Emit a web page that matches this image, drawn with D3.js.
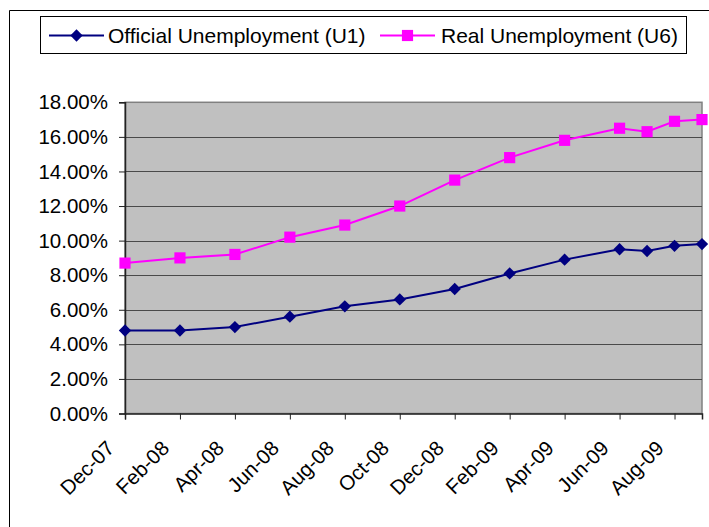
<!DOCTYPE html>
<html>
<head>
<meta charset="utf-8">
<script src="https://cdn.jsdelivr.net/npm/d3@7"></script>
<style>
html,body{margin:0;padding:0;background:#fff;}
svg{display:block;}
text{font-family:"Liberation Sans",Arial,sans-serif;fill:#000;}
</style>
</head>
<body>
<svg id="chart" width="709" height="527"></svg>
<script>
// month index from Dec-07 (0) to Sep-09 (21)
const monthIdx = [0, 2, 4, 6, 8, 10, 12, 14, 16, 18, 19, 20, 21];
const u1 = [4.8, 4.8, 5.0, 5.6, 6.2, 6.6, 7.2, 8.1, 8.9, 9.5, 9.4, 9.7, 9.8];
const u6 = [8.7, 9.0, 9.2, 10.2, 10.9, 12.0, 13.5, 14.8, 15.8, 16.5, 16.3, 16.9, 17.0];
const xTickIdx = [0, 2, 4, 6, 8, 10, 12, 14, 16, 18, 20];
const xTickLabels = ["Dec-07","Feb-08","Apr-08","Jun-08","Aug-08","Oct-08","Dec-08","Feb-09","Apr-09","Jun-09","Aug-09"];
const yTicks = [0, 2, 4, 6, 8, 10, 12, 14, 16, 18];
const seriesNames = ["Official Unemployment (U1)", "Real Unemployment (U6)"];
const seriesColors = ["#000080", "#FF00FF"];

(function () {
const svg = d3.select("#chart");
const pLeft = 125, pRight = 702, pTop = 102.3, pBottom = 413.5;
const x = d3.scaleLinear().domain([0, 21]).range([pLeft, pRight]);
const y = d3.scaleLinear().domain([0, 18]).range([pBottom, pTop]);
const FS = 20.5;
const FONT = '"Liberation Sans",Arial,sans-serif';

// marker generators: diamond = rotated square, square
const markerPath = d3.symbol().type(d3.symbolSquare);
function markerAttrs(sel, si) {
  sel.attr("d", markerPath.size(si === 0 ? 76 : 125)()).attr("fill", seriesColors[si]);
}

// chart area border
svg.append("path").attr("d", "M9.5,530 V10.5 H712").attr("fill", "none").attr("stroke", "#000").attr("stroke-width", 1);

// plot background
svg.append("rect").attr("x", pLeft).attr("y", pTop).attr("width", pRight - pLeft).attr("height", pBottom - pTop)
  .attr("fill", "#C0C0C0").attr("stroke", "#808080").attr("stroke-width", 1.5);

// gridlines
svg.append("g").selectAll("line").data(yTicks.filter(d => d > 0 && d < 18)).join("line")
  .attr("x1", pLeft).attr("x2", pRight)
  .attr("y1", d => Math.round(y(d)) + 0.5).attr("y2", d => Math.round(y(d)) + 0.5)
  .attr("stroke", "#4a4a4a").attr("stroke-width", 1);

// y axis
const yAxis = d3.axisLeft(y).tickValues(yTicks).tickSize(6).tickPadding(11)
  .tickFormat(d => d3.format(".2f")(d) + "%");
const gy = svg.append("g").attr("transform", `translate(${pLeft},0)`).call(yAxis);
gy.select(".domain").attr("stroke", "#222").attr("stroke-width", 1.5);
gy.selectAll(".tick line").attr("stroke", "#222");
gy.selectAll(".tick text").attr("font-size", FS).style("font-family", FONT).attr("fill", "#000");

// x axis
const xAxis = d3.axisBottom(x).tickValues(xTickIdx).tickSize(6)
  .tickFormat((d, i) => xTickLabels[i]);
const gx = svg.append("g").attr("transform", `translate(0,${pBottom})`).call(xAxis);
gx.select(".domain").attr("stroke", "#222").attr("stroke-width", 1.5);
gx.selectAll(".tick line").attr("stroke", "#222");
gx.selectAll(".tick text")
  .attr("font-size", FS).style("font-family", FONT).attr("fill", "#000")
  .attr("text-anchor", "end").attr("dy", null).attr("y", 0)
  .attr("transform", "translate(-10,36) rotate(-45)");

// series
const seriesData = [u1, u6];
const line = d3.line().x(d => x(d[0])).y(d => y(d[1]));
seriesData.forEach((vals, si) => {
  const pts = monthIdx.map((m, i) => [m, vals[i]]);
  svg.append("path").datum(pts).attr("d", line).attr("fill", "none")
    .attr("stroke", seriesColors[si]).attr("stroke-width", 2);
  svg.append("g").selectAll("path").data(pts).join("path")
    .attr("transform", d => `translate(${x(d[0])},${y(d[1])})` + (si === 0 ? " rotate(45)" : ""))
    .call(markerAttrs, si);
});

// legend
const lg = svg.append("g");
lg.append("rect").attr("x", 40.5).attr("y", 16.5).attr("width", 646).attr("height", 37)
  .attr("fill", "#fff").attr("stroke", "#000").attr("stroke-width", 1);
const legendItems = [{x0: 49, tx: 108}, {x0: 380, tx: 441}];
legendItems.forEach((it, i) => {
  lg.append("line").attr("x1", it.x0).attr("x2", it.x0 + 55).attr("y1", 35.5).attr("y2", 35.5)
    .attr("stroke", seriesColors[i]).attr("stroke-width", 2);
  lg.append("path").attr("transform", `translate(${it.x0 + 27.5},35.5)` + (i === 0 ? " rotate(45)" : ""))
    .call(markerAttrs, i);
  lg.append("text").attr("x", it.tx).attr("y", 43).attr("font-size", 21).text(seriesNames[i]);
});
})();
</script>
</body>
</html>
